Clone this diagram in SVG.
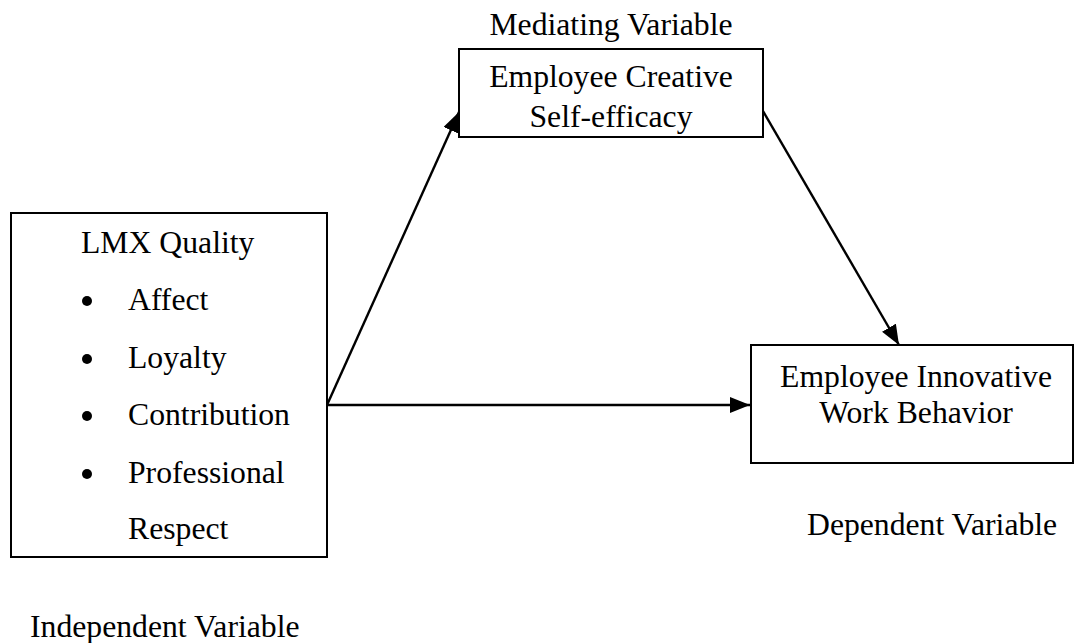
<svg xmlns="http://www.w3.org/2000/svg" width="1080" height="643" viewBox="0 0 1080 643">
<style>
text{font-family:"Liberation Serif","Times New Roman",serif;font-size:31.7px;fill:#000}
.box{fill:#fff;stroke:#000;stroke-width:2}
.conn{stroke:#000;stroke-width:2.4;fill:none}
.mid{text-anchor:middle}
</style>
<defs>
<marker id="ah" markerUnits="userSpaceOnUse" markerWidth="20" markerHeight="16" viewBox="0 0 20 16" refX="20" refY="8" orient="auto">
<path d="M0,0 L20,8 L0,16 Z" fill="#000"/>
</marker>
</defs>
<rect width="1080" height="643" fill="#fff"/>
<g id="connectors">
<line class="conn" x1="327" y1="405" x2="459" y2="112" marker-end="url(#ah)"/>
<line class="conn" x1="763" y1="111" x2="899" y2="345" marker-end="url(#ah)"/>
<line class="conn" x1="327" y1="405" x2="750" y2="405" marker-end="url(#ah)"/>
</g>
<g id="mediator">
<rect class="box" x="459" y="49" width="304" height="88"/>
<text class="mid" x="611" y="35">Mediating Variable</text>
<text class="mid" x="611" y="87">Employee Creative</text>
<text class="mid" x="611" y="127">Self-efficacy</text>
</g>
<g id="independent">
<rect class="box" x="11" y="213" width="316" height="344"/>
<text x="81" y="253">LMX Quality</text>
<circle cx="87" cy="301" r="5"/>
<text x="128" y="310">Affect</text>
<circle cx="87" cy="359" r="5"/>
<text x="128" y="368">Loyalty</text>
<circle cx="87" cy="416" r="5"/>
<text x="128" y="425">Contribution</text>
<circle cx="87" cy="474" r="5"/>
<text x="128" y="483">Professional</text>
<text x="128" y="539">Respect</text>
<text x="30" y="637">Independent Variable</text>
</g>
<g id="dependent">
<rect class="box" x="751" y="345" width="322" height="118"/>
<text class="mid" x="916" y="387">Employee Innovative</text>
<text class="mid" x="916" y="423">Work Behavior</text>
<text x="807" y="535">Dependent Variable</text>
</g>
</svg>
